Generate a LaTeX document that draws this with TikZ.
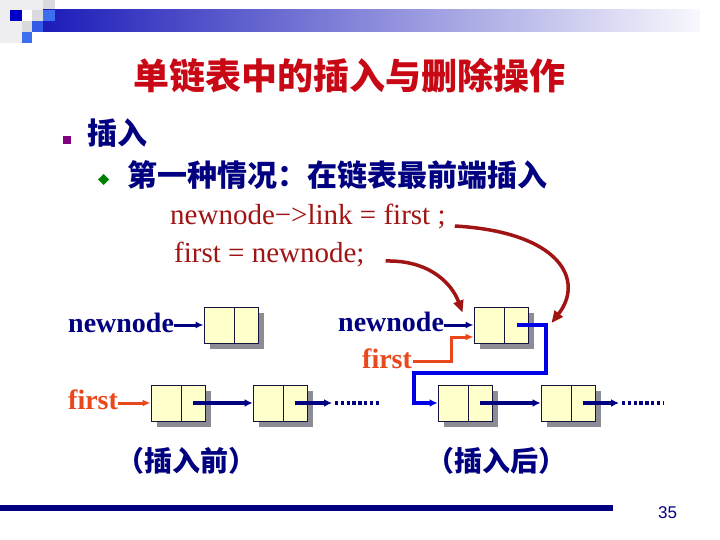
\documentclass[tikz,border=0pt]{standalone}
\usepackage{fontspec}
\setmainfont{Liberation Serif}
\newfontfamily\cjk{Noto Sans CJK SC}
\newfontfamily\numfont{Liberation Sans}
\usetikzlibrary{arrows.meta,shadows,calc}
\definecolor{navyc}{RGB}{0,0,128}
\definecolor{titlered}{RGB}{200,8,20}
\definecolor{codered}{RGB}{160,20,20}
\definecolor{orangec}{RGB}{232,72,28}
\definecolor{brightblue}{RGB}{0,0,232}
\definecolor{boxfill}{RGB}{255,255,204}
\definecolor{shadowc}{RGB}{140,140,150}
\definecolor{boxline}{RGB}{20,20,60}
\definecolor{purplec}{RGB}{128,0,128}
\definecolor{greenc}{RGB}{0,128,0}
\definecolor{barleft}{RGB}{28,28,185}
\definecolor{barright}{RGB}{248,248,253}
\definecolor{sqdark}{RGB}{0,0,200}
\definecolor{sqbright}{RGB}{60,110,240}
\definecolor{sqmed}{RGB}{50,90,230}
\definecolor{sqgray}{RGB}{218,218,222}
\definecolor{sqfaint}{RGB}{238,238,240}
\begin{document}
\begin{tikzpicture}[x=1pt,y=-1pt,
  lbox/.style={draw=boxline, line width=0.9pt, fill=boxfill,
    minimum width=54pt, minimum height=36pt, inner sep=0pt,
    drop shadow={shadow xshift=6pt, shadow yshift=-6pt, fill=shadowc, opacity=1},
    path picture={\draw[boxline, line width=0.9pt]
      ([xshift=30pt]path picture bounding box.north west) --
      ([xshift=30pt]path picture bounding box.south west);}},
  serifb/.style={font=\bfseries\fontsize{28}{32}\selectfont, inner sep=0pt},
  coderm/.style={font=\fontsize{29}{33}\selectfont, text=codered, inner sep=0pt},
  cjkb/.style={font=\cjk\bfseries\fontsize{30}{36}\selectfont, text=navyc, inner sep=0pt},
  navyarrow/.style={draw=navyc, line width=3pt, -{Latex[length=8pt,width=7pt]}},
  ptr/.style={draw=navyc, line width=4pt, -{Latex[length=8pt,width=8pt]}},
  orangearrow/.style={draw=orangec, line width=3pt, -{Latex[length=8pt,width=7pt]}},
  bluearrow/.style={draw=brightblue, line width=4pt, -{Latex[length=8pt,width=8pt]}},
  redarrow/.style={draw=codered, line width=3.5pt, -{Triangle[length=12pt,width=10pt]}},
  dots/.style={draw=navyc, line width=3.5pt, dash pattern=on 3.3pt off 2.5pt},
]
\useasboundingbox (0,0) rectangle (720,540);
\fill[white] (0,0) rectangle (720,540);

% top decoration
\fill[sqfaint] (0,0) rectangle (43,10);
\fill[sqfaint] (0,10) rectangle (10,43);
\fill[sqfaint] (10,21) rectangle (22,43);
\fill[sqgray] (43,0) rectangle (55,10);
\fill[sqgray] (32,10) rectangle (43,21);
\fill[sqgray] (22,21) rectangle (32,32);
\shade[left color=barleft, right color=barright] (43,10) rectangle (700,32);
\fill[sqdark] (10,10) rectangle (22,21);
\fill[sqbright] (43,10) rectangle (55,21);
\fill[sqmed] (32,21) rectangle (43,32);
\fill[sqbright] (22,32) rectangle (32,43);

% title
\node[font=\cjk\bfseries\fontsize{36}{40}\selectfont, text=titlered, inner sep=0pt] (title) at (349,75.5) {单链表中的插入与删除操作};

% bullets and text
\node[fill=purplec, minimum size=7.5pt, inner sep=0pt] (bul1) at (67,140) {};
\node[cjkb, anchor=west] (ins) at (87,133.5) {插入};
\fill[greenc] (103.5,174) -- (109,179.5) -- (103.5,185) -- (98,179.5) -- cycle;
\node[cjkb, anchor=west] (case) at (127,175) {第一种情况：在链表最前端插入};
\node[coderm, anchor=base west] (code1) at (170,225) {newnode−>link = first ;};
\node[coderm, anchor=base west] (code2) at (174,262) {first = newnode;};

% before insertion
\node[serifb, text=navyc, anchor=base west] (nnL) at (68,332) {newnode};
\node[lbox] (nn) at (231,325) {};
\node[serifb, text=orangec, anchor=base west] (fL) at (68,409) {first};
\node[lbox] (b1) at (178,403) {};
\node[lbox] (b2) at (280,403) {};
\coordinate (d1) at (332,403);
\coordinate (d1e) at (381,403);
\draw[navyarrow] (nnL.east |- nn.west) -- (nn.west);
\draw[orangearrow] (fL.east |- b1.west) -- (b1.west);
\draw[ptr] ([xshift=-12pt]b1.east) -- (b2.west);
\draw[ptr] ([xshift=-12pt]b2.east) -- (d1);
\draw[dots] ([xshift=3pt]d1) -- (d1e);

% after insertion
\node[serifb, text=navyc, anchor=base west] (nnR) at (338,331) {newnode};
\node[lbox] (rn) at (501,325) {};
\node[serifb, text=orangec, anchor=base west] (fR) at (362,368) {first};
\node[lbox] (a1) at (465,403) {};
\node[lbox] (a2) at (568,403) {};
\coordinate (d2) at (619,403);
\coordinate (d2e) at (664,403);
\draw[navyarrow] (nnR.east |- rn.west) -- (rn.west);
\draw[orangearrow] ([xshift=1pt,yshift=7pt]fR.base east) -- ++(38,0) |- ([yshift=-12pt]rn.west);
\draw[bluearrow] ([xshift=-11pt]rn.east) -- ++(29,0) -- ++(0,48) -| ([xshift=-24pt]a1.west) -- (a1.west);
\draw[ptr] ([xshift=-12pt]a1.east) -- (a2.west);
\draw[ptr] ([xshift=-12pt]a2.east) -- (d2);
\draw[dots] ([xshift=3pt]d2) -- (d2e);

% red curved arrows
\draw[redarrow] ([xshift=9pt,yshift=-1pt]code1.base east) .. controls (560,232) and (585,280) .. ([xshift=23pt,yshift=2pt]rn.east);
\draw[redarrow] ([xshift=21pt,yshift=1pt]code2.base east) .. controls (430,260) and (452,284) .. ([xshift=-11pt,yshift=-6pt]rn.north west);

% captions
\node[font=\cjk\bfseries\fontsize{28}{32}\selectfont, text=navyc, inner sep=0pt] (capL) at (186,460.5) {（插入前）};
\node[font=\cjk\bfseries\fontsize{28}{32}\selectfont, text=navyc, inner sep=0pt] (capR) at (496,460.5) {（插入后）};

% bottom
\fill[navyc] (0,505) rectangle (613,511);
\node[font=\numfont\fontsize{17}{20}\selectfont, text=navyc, inner sep=0pt, anchor=base] (pg) at (667.5,518) {35};
\end{tikzpicture}
\end{document}
